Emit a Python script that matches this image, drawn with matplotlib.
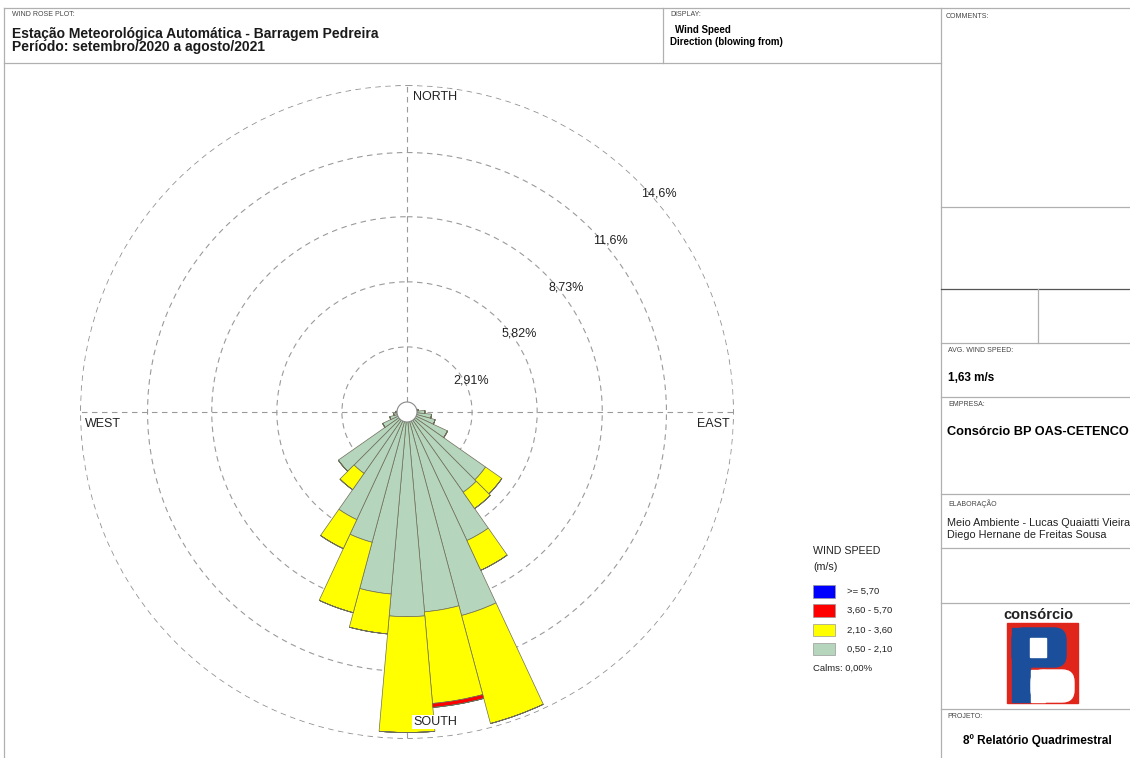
#!/usr/bin/env python3
# -*- coding: utf-8 -*-

# Wind rose plot (WRPLOT style) - Barragem Pedreira station

import numpy as np
import matplotlib.pyplot as plt
from matplotlib.patches import Rectangle, Circle, FancyBboxPatch

plt.rcParams['font.family'] = ['Liberation Sans', 'DejaVu Sans']

###########################################################
# DATA
###########################################################

# direction of the petals (degrees, blowing from), 36 sectors of 10 degrees
directions = np.arange(0, 360, 10)

# frequency (%) of each speed class per direction
freq_050_210 = [0.30, 0.30, 0.30, 0.30, 0.30, 0.30, 0.30, 0.35, 0.50, 0.80,
                1.10, 1.30, 2.00, 4.29, 4.38, 6.34, 9.42, 8.97, 9.15, 8.17,
                6.03, 5.31, 3.35, 3.75, 1.20, 0.80, 0.60, 0.50, 0.40, 0.30,
                0.30, 0.30, 0.30, 0.30, 0.30, 0.30]
freq_210_360 = [0, 0, 0, 0, 0, 0, 0, 0, 0, 0,
                0, 0, 0, 0.89, 0.89, 1.47, 5.00, 4.11, 5.18, 1.79,
                3.26, 1.43, 0.89, 0, 0, 0, 0, 0, 0, 0,
                0, 0, 0, 0, 0, 0]
freq_360_570 = [0, 0, 0, 0, 0, 0, 0, 0, 0, 0,
                0, 0, 0, 0, 0, 0, 0, 0.18, 0, 0,
                0, 0, 0, 0, 0, 0, 0, 0, 0, 0,
                0, 0, 0, 0, 0, 0]
freq_570 = [0] * 36

classes = [">= 5,70", "3,60 - 5,70", "2,10 - 3,60", "0,50 - 2,10"]
class_colors = ["#0000ff", "#ff0000", "#ffff00", "#b6d5bd"]

# circles of the rose
rings = [2.91, 5.82, 8.73, 11.6, 14.6]
ring_labels = ["2,91%", "5,82%", "8,73%", "11,6%", "14,6%"]
ring_label_angle = [64, 55, 52, 50, 49]

###########################################################
# FIGURE
###########################################################

W, H = 1130, 758
fig = plt.figure(figsize=(W / 100, H / 100), dpi=100)

# rose: center (407, 412) px, outer ring radius 327 px
cx, cy, R = 407, 412, 327
ax = fig.add_axes([(cx - R) / W, (H - cy - R) / H, 2 * R / W, 2 * R / H],
                  projection='polar', zorder=1)
ax.set_theta_zero_location('N')
ax.set_theta_direction(-1)
ax.set_ylim(0, 14.62)
ax.patch.set_alpha(0)
ax.spines['polar'].set_visible(False)
ax.set_rgrids(rings, labels=[''] * len(rings))
ax.set_thetagrids([0, 90, 180, 270], labels=[''] * 4)
ax.grid(True, color='#9a9a9a', lw=0.8, ls=(0, (5, 4)))
ax.set_axisbelow(True)

theta = np.radians(directions)
width = np.radians(10)
bottom = np.zeros(36)
stack = [freq_050_210, freq_210_360, freq_360_570, freq_570]
for vals, col in zip(stack, class_colors[::-1]):
    vals = np.array(vals, dtype=float)
    ax.bar(theta, vals, width=width, bottom=bottom, color=col,
           edgecolor='#6e6e58', linewidth=0.5, zorder=2)
    bottom = bottom + vals

# ring labels
for v, lab, a in zip(rings, ring_labels, ring_label_angle):
    ax.text(np.radians(a), v + 0.3, lab, fontsize=9, color='#222222',
            ha='center', va='center', zorder=3)

###########################################################
# FRAME / TEXT (pixel coordinates)
###########################################################

fr = fig.add_axes([0, 0, 1, 1], zorder=5)
fr.set_xlim(0, W)
fr.set_ylim(H, 0)
fr.patch.set_alpha(0)
fr.axis('off')

lc = '#b0b0b0'
fr.plot([4, W], [8, 8], color=lc, lw=0.9)
fr.plot([4, 4], [8, H], color=lc, lw=0.9)
fr.plot([4, 941], [63, 63], color=lc, lw=0.9)
fr.plot([663, 663], [8, 63], color=lc, lw=0.9)
fr.plot([941, 941], [8, H], color=lc, lw=0.9)
for yl in [207, 343, 397, 494, 548, 603, 709]:
    fr.plot([941, W], [yl, yl], color=lc, lw=0.9)
fr.plot([941, W], [289, 289], color='#555555', lw=0.9)
fr.plot([1038, 1038], [289, 343], color=lc, lw=0.9)

# calm circle
fr.add_patch(Circle((cx, cy), 10, facecolor='white', edgecolor='#888888', lw=0.8))

small = dict(fontsize=5, color='#444444', va='center')
fr.text(12, 15, "WIND ROSE PLOT:", **small)
fr.text(12, 34, "Estação Meteorológica Automática - Barragem Pedreira",
        fontsize=10, fontweight='bold', va='center', color='#1a1a1a')
fr.text(12, 47, "Período: setembro/2020 a agosto/2021",
        fontsize=10, fontweight='bold', va='center', color='#1a1a1a')
fr.text(670, 15, "DISPLAY:", **small)
fr.text(675, 30, "Wind Speed", fontsize=7, fontweight='bold', va='center')
fr.text(670, 42, "Direction (blowing from)", fontsize=7, fontweight='bold',
        va='center')
fr.text(946, 17, "COMMENTS:", **small)

fr.text(948, 351, "AVG. WIND SPEED:", **small)
fr.text(948, 378, "1,63 m/s", fontsize=8.5, fontweight='bold', va='center')
fr.text(948, 404, "EMPRESA:", **small)
fr.text(947, 432, "Consórcio BP OAS-CETENCO", fontsize=9.2, fontweight='bold',
        va='center')
fr.text(948, 504, "ELABORAÇÃO", **small)
fr.text(947, 523, "Meio Ambiente - Lucas Quaiatti Vieira", fontsize=7.8,
        va='center', color='#222222')
fr.text(947, 535, "Diego Hernane de Freitas Sousa", fontsize=7.8,
        va='center', color='#222222')
fr.text(947, 717, "PROJETO:", **small)
fr.text(1037, 741, "8º Relatório Quadrimestral", fontsize=8.5,
        fontweight='bold', ha='center', va='center')

# logo
fr.text(1038, 615, "consórcio", fontsize=10.5, fontweight='bold',
        ha='center', va='center', color='#222222')
fr.add_patch(Rectangle((1007, 623), 71, 80, color='#e0251b'))
fr.add_patch(FancyBboxPatch((1012, 628), 54, 39, boxstyle='round,pad=0,rounding_size=12',
                            color='#1b4f9c'))
fr.add_patch(Rectangle((1012, 628), 18, 74, color='#1b4f9c'))
fr.add_patch(Rectangle((1030, 638), 16, 19, color='white'))
fr.add_patch(FancyBboxPatch((1031, 670), 43, 32, boxstyle='round,pad=0,rounding_size=12',
                            color='white'))
fr.add_patch(Rectangle((1031, 670), 14, 32, color='white'))

# compass labels
fr.text(413, 97, "NORTH", fontsize=9, va='center', color='#222222')
fr.text(85, 424, "WEST", fontsize=9, va='center', color='#222222')
fr.text(730, 424, "EAST", fontsize=9, va='center', ha='right', color='#222222')
fr.text(413, 722, "SOUTH", fontsize=9, va='center', color='#222222',
        bbox=dict(facecolor='white', edgecolor='none', pad=0.5))

# legend
fr.text(813, 551, "WIND SPEED", fontsize=7.7, va='center', color='#222222')
fr.text(813, 567, "(m/s)", fontsize=7.7, va='center', color='#222222')
for i, (lab, col) in enumerate(zip(classes, class_colors)):
    y0 = 585 + i * 19.3
    fr.add_patch(Rectangle((813, y0), 22, 12.5, facecolor=col,
                           edgecolor='#999999', lw=0.5))
    fr.text(847, y0 + 6.5, lab, fontsize=6.8, va='center', color='#222222')
fr.text(813, 668, "Calms: 0,00%", fontsize=6.8, va='center', color='#222222')

plt.savefig('out.png', dpi=100)
